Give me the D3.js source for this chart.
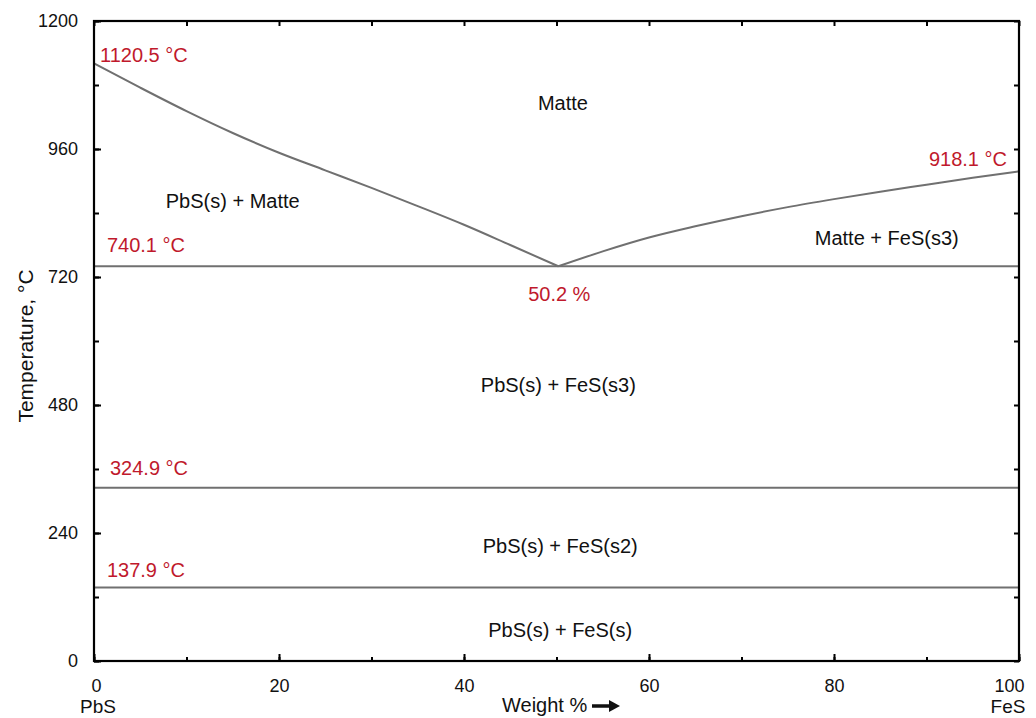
<!DOCTYPE html>
<html><head><meta charset="utf-8">
<script src="https://cdn.jsdelivr.net/npm/d3@7"></script>
<style>body{margin:0;background:#fff}svg{display:block}text{font-family:"Liberation Sans",Arial,sans-serif}</style>
</head><body><svg id="c" width="1036" height="718"></svg>
<script>
const xTicks = [0, 20, 40, 60, 80, 100];
const yTicks = [0, 240, 480, 720, 960, 1200];
const leftLiquidus = [[0,1120.5],[5,1075],[10,1031],[15,990],[20,953],[25,920],[30,887],[35,853],[40,818],[45,780],[50.2,740.1]];
const rightLiquidus = [[50.2,740.1],[55,768],[60,794],[65,815],[70,834],[75,851],[80,866],[85,880],[90,893],[95,906],[100,918.1]];
const isotherms = [740.1, 324.9, 137.9];
const tempLabels = [
  {text:"1120.5 °C", x:0.65, t:1120.5, dy:-1, anchor:"start"},
  {text:"918.1 °C", x:98.7, t:918.1, dy:-5, anchor:"end"},
  {text:"740.1 °C", x:1.4, t:740.1, dy:-14, anchor:"start"},
  {text:"50.2 %", x:50.3, t:740.1, dy:35, anchor:"middle"},
  {text:"324.9 °C", x:1.73, t:324.9, dy:-13, anchor:"start"},
  {text:"137.9 °C", x:1.4, t:137.9, dy:-10, anchor:"start"}
];
const regions = [
  {text:"Matte", x:50.7, t:1046},
  {text:"PbS(s) + Matte", x:15, t:862},
  {text:"Matte + FeS(s3)", x:85.7, t:793},
  {text:"PbS(s) + FeS(s3)", x:50.2, t:517},
  {text:"PbS(s) + FeS(s2)", x:50.4, t:216},
  {text:"PbS(s) + FeS(s)", x:50.4, t:58}
];

const svg = d3.select("#c");
const x = d3.scaleLinear().domain([0,100]).range([94,1019]);
const y = d3.scaleLinear().domain([0,1200]).range([661,21]);
const red = "#c0192c";
const ink = "#111";

// isotherms
svg.selectAll("line.iso").data(isotherms).join("line")
  .attr("x1", x(0)).attr("x2", x(100))
  .attr("y1", d=>y(d)).attr("y2", d=>y(d))
  .attr("stroke","#707070").attr("stroke-width",2);

const line = d3.line().x(d=>x(d[0])).y(d=>y(d[1])).curve(d3.curveMonotoneX);
[leftLiquidus, rightLiquidus].forEach(s=>{
  svg.append("path").attr("d", line(s)).attr("fill","none")
    .attr("stroke","#707070").attr("stroke-width",2);
});

// axes with inward ticks
const minorX = d3.range(0,101,10), minorY = d3.range(0,1201,120);
const axisStyle = g => { g.select(".domain").remove(); g.selectAll("line").attr("stroke","#000").attr("stroke-width",2); };
svg.append("g").attr("transform",`translate(0,${y(0)})`)
  .call(d3.axisBottom(x).tickValues(minorX).tickSize(-4).tickFormat(""))
  .call(axisStyle);
svg.append("g").attr("transform",`translate(0,${y(0)})`)
  .call(d3.axisBottom(x).tickValues(xTicks).tickSize(-7).tickPadding(18).tickFormat(d3.format("d")))
  .call(axisStyle)
  .call(g=>g.selectAll("text").attr("font-size",18).attr("fill",ink)
    .attr("dx", d=> d===100 ? -10 : (d===0 ? 2 : 0)));
svg.append("g").attr("transform",`translate(0,${y(1200)})`)
  .call(d3.axisTop(x).tickValues(minorX).tickSize(-5).tickFormat(""))
  .call(axisStyle);
svg.append("g").attr("transform",`translate(${x(0)},0)`)
  .call(d3.axisLeft(y).tickValues(minorY).tickSize(-5).tickFormat(""))
  .call(axisStyle);
svg.append("g").attr("transform",`translate(${x(0)},0)`)
  .call(d3.axisLeft(y).tickValues(yTicks).tickSize(-7).tickPadding(16).tickFormat(d3.format("d")))
  .call(axisStyle)
  .call(g=>g.selectAll("text").attr("font-size",18).attr("fill",ink));
svg.append("g").attr("transform",`translate(${x(100)},0)`)
  .call(d3.axisRight(y).tickValues(minorY).tickSize(-5).tickFormat(""))
  .call(axisStyle);

// frame
svg.append("rect").attr("x",x(0)).attr("y",y(1200)).attr("width",x(100)-x(0)).attr("height",y(0)-y(1200))
  .attr("fill","none").attr("stroke","#000").attr("stroke-width",2.2);

// temperature labels
svg.selectAll("text.tl").data(tempLabels).join("text")
  .attr("x",d=>x(d.x)).attr("y",d=>y(d.t)+d.dy)
  .attr("text-anchor",d=>d.anchor).attr("font-size",20).attr("fill",red)
  .text(d=>d.text);

// region labels
svg.selectAll("text.rl").data(regions).join("text")
  .attr("x",d=>x(d.x)).attr("y",d=>y(d.t)).attr("dy","0.35em")
  .attr("text-anchor","middle").attr("font-size",20).attr("fill",ink)
  .text(d=>d.text);

// axis titles
svg.append("text").attr("x",x(0)+4).attr("y",713).attr("text-anchor","middle").attr("font-size",19).attr("fill",ink).text("PbS");
svg.append("text").attr("x",x(100)-11).attr("y",713).attr("text-anchor","middle").attr("font-size",19).attr("fill",ink).text("FeS");
svg.append("text").attr("x",502).attr("y",712).attr("text-anchor","start").attr("font-size",20).attr("fill",ink).text("Weight %");
svg.append("line").attr("x1",592).attr("x2",612).attr("y1",706).attr("y2",706).attr("stroke",ink).attr("stroke-width",3.5);
svg.append("path").attr("d","M609,700 L620,706 L609,712 Z").attr("fill",ink);
svg.append("text").attr("transform","translate(33,346) rotate(-90)").attr("text-anchor","middle")
  .attr("font-size",21).attr("fill",ink).text("Temperature, °C");
</script></body></html>
